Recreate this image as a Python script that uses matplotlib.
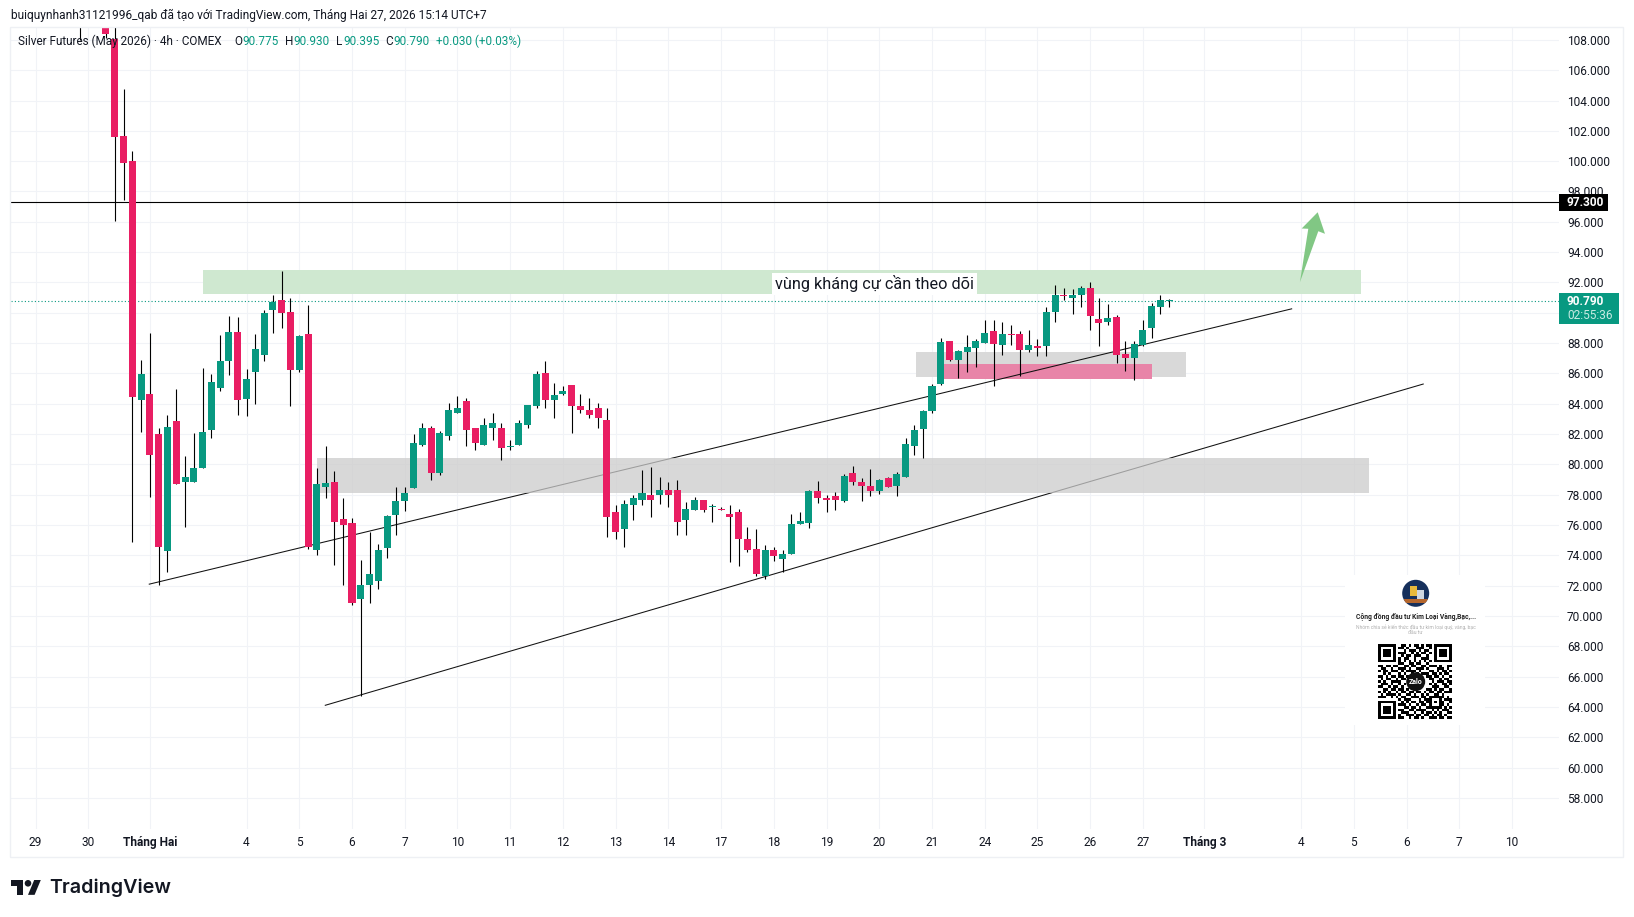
import numpy as np
import matplotlib
matplotlib.use('Agg')
import matplotlib.pyplot as plt
from matplotlib.patches import Rectangle, Circle, Polygon

plt.rcParams['font.family'] = ['Roboto', 'DejaVu Sans']

# 4h candles. bars 1 and 2 sit above the top of the chart
opens = [112.0, np.nan, np.nan, 109.5, 108.07, 101.63, 99.98, 84.27, 84.67, 82.03,
         74.31, 82.89, 78.86, 78.86, 79.79, 82.30, 85.07, 86.85, 88.76, 84.34,
         86.12, 87.24, 90.21, 90.81, 90.08, 86.25, 88.63, 74.38, 78.53, 78.86,
         76.42, 76.16, 71.15, 72.07, 72.33, 74.51, 76.69, 77.61, 78.47, 81.25,
         82.43, 79.40, 81.84, 83.42, 84.15, 82.37, 81.25, 82.43, 82.43, 81.14,
         81.25, 82.63, 83.82, 86.06, 84.22, 84.61, 85.21, 83.82, 83.56, 83.69,
         82.96, 76.83, 75.77, 77.35, 77.62, 78.01, 77.95, 78.28, 78.28, 76.30,
         76.96, 77.68, 77.20, 77.09, 76.76, 76.89, 75.11, 74.45, 72.67, 74.32,
         73.73, 74.06, 76.09, 76.16, 78.27, 77.81, 77.94, 77.61, 79.46, 78.86,
         78.60, 78.27, 79.13, 78.60, 79.19, 81.24, 82.36, 83.55, 85.33, 88.17,
         86.91, 87.44, 87.70, 88.03, 88.83, 87.90, 88.63, 88.63, 87.57, 87.84,
         87.84, 90.08, 91.14, 91.00, 91.14, 91.66, 89.62, 89.42, 89.75, 87.31,
         87.04, 87.90, 89.02, 90.41, 90.775]
highs = [113.0, np.nan, np.nan, 110.5, 109.5, 104.73, 100.70, 86.91, 88.69, 82.43,
         83.28, 85.00, 80.58, 82.10, 86.39, 85.99, 88.56, 89.82, 89.75, 86.32,
         88.63, 90.21, 91.14, 92.78, 91.00, 88.56, 90.54, 79.79, 81.24, 79.59,
         77.81, 76.49, 73.72, 75.56, 74.78, 76.69, 78.53, 78.53, 82.03, 82.76,
         82.50, 82.17, 84.08, 84.48, 84.35, 82.37, 83.09, 83.42, 82.70, 81.64,
         82.96, 83.95, 86.19, 86.79, 85.34, 85.14, 85.21, 84.61, 84.35, 84.08,
         83.69, 77.29, 77.68, 78.01, 79.66, 79.86, 79.20, 78.87, 78.94, 77.49,
         77.88, 77.68, 77.36, 77.16, 77.29, 77.09, 75.90, 75.71, 74.65, 74.58,
         74.32, 76.76, 76.89, 78.34, 78.93, 78.01, 78.20, 79.39, 79.92, 79.13,
         79.72, 79.06, 79.19, 79.52, 81.77, 82.62, 83.61, 85.33, 88.36, 88.17,
         87.57, 88.56, 88.30, 89.55, 89.55, 89.42, 89.22, 88.83, 88.89, 88.30,
         90.41, 91.86, 91.66, 91.60, 91.79, 92.06, 91.00, 90.61, 89.88, 88.17,
         88.17, 89.55, 90.67, 91.20, 90.93]
lows = [108.0, np.nan, np.nan, 108.14, 96.04, 97.41, 74.86, 82.12, 77.88, 72.03,
        72.93, 78.73, 75.85, 78.86, 79.79, 81.77, 84.87, 85.92, 83.28, 83.17,
        84.01, 86.85, 88.69, 89.02, 83.88, 86.12, 74.44, 74.05, 77.81, 73.39,
        72.07, 70.75, 64.75, 70.88, 71.80, 73.85, 75.37, 76.95, 78.47, 81.18,
        79.00, 79.33, 81.58, 83.42, 81.18, 80.92, 81.25, 81.64, 80.32, 80.92,
        81.25, 82.43, 83.69, 83.75, 83.09, 84.55, 82.04, 83.42, 83.09, 82.37,
        75.18, 75.05, 74.52, 76.30, 77.29, 76.56, 77.42, 77.22, 75.31, 75.31,
        76.96, 76.83, 76.23, 76.96, 73.53, 73.33, 74.19, 72.67, 72.47, 73.66,
        72.93, 74.06, 76.09, 75.83, 77.48, 76.89, 77.02, 77.55, 78.67, 77.61,
        77.94, 78.07, 78.53, 77.94, 79.19, 80.65, 80.45, 83.42, 85.26, 86.85,
        85.73, 86.12, 86.45, 88.03, 85.20, 87.24, 87.90, 85.86, 87.44, 87.18,
        87.18, 89.42, 90.87, 89.95, 90.41, 88.89, 87.84, 89.22, 86.72, 86.19,
        85.59, 87.84, 88.36, 89.95, 90.395]
closes = [110.0, np.nan, np.nan, 108.42, 101.61, 99.87, 84.43, 85.99, 80.65, 74.53,
          82.49, 78.73, 79.19, 79.79, 82.16, 85.46, 86.85, 88.76, 84.27, 85.66,
          87.64, 90.01, 90.74, 90.01, 86.25, 88.50, 74.53, 78.73, 78.80, 76.23,
          76.03, 70.88, 72.07, 72.79, 74.38, 76.62, 77.61, 78.14, 81.44, 82.37,
          79.40, 82.10, 83.62, 83.69, 82.24, 81.38, 82.63, 82.70, 81.05, 81.18,
          82.70, 83.89, 85.98, 84.22, 84.55, 84.81, 83.82, 83.62, 83.29, 83.03,
          76.50, 75.57, 77.42, 77.75, 78.08, 77.68, 78.34, 78.01, 76.23, 77.09,
          77.62, 77.02, 77.25, 76.96, 76.56, 75.05, 74.32, 72.74, 74.32, 73.99,
          74.12, 76.09, 76.29, 78.27, 77.81, 77.68, 77.68, 79.26, 78.86, 78.60,
          78.27, 78.99, 78.53, 79.39, 81.37, 82.30, 83.55, 85.20, 88.10, 86.91,
          87.51, 87.77, 88.17, 88.69, 87.97, 88.63, 88.56, 87.57, 87.90, 87.70,
          90.08, 91.20, 91.09, 91.20, 91.66, 89.82, 89.35, 89.68, 87.24, 87.04,
          87.97, 88.89, 90.47, 90.81, 90.79]

price_ticks = list(range(58, 110, 2))
hidden_price_ticks = [90]  # covered by the last price tag in the picture
day_bars = [-5, 1, 8, 19, 25, 31, 37, 43, 49, 55, 61, 67, 73, 79, 85, 91, 97, 103,
            109, 115, 121, 128, 139, 145, 151, 157, 163]
day_labels = ['29', '30', 'Tháng Hai', '4', '5', '6', '7', '10', '11', '12', '13', '14',
              '17', '18', '19', '20', '21', '24', '25', '26', '27', 'Tháng 3', '4', '5',
              '6', '7', '10']
month_labels = ['Tháng Hai', 'Tháng 3']

last_price = 90.79
level_price = 97.3

# drawings on the chart, (bar from, bar to, price low, price high)
resist_zone = (14.05, 145.8, 91.23, 92.79)
big_gray_zone = (27.0, 146.7, 78.10, 80.45)
small_gray_zone = (95.2, 125.9, 85.75, 87.38)
pink_zone = (98.4, 122.0, 85.62, 86.65)
trend_up = ([7.93, 137.93], [72.10, 90.26])
trend_low = ([27.96, 152.9], [64.11, 85.30])
arrow_bars = [138.87, 139.82, 139.07, 140.89, 141.72, 140.96]
arrow_prices = [92.02, 95.54, 95.56, 96.63, 95.21, 95.38]

# zalo code, hand typed from the picture
qr_rows = [
    '11111110011010110101101111111',
    '10000010110100011100101000001',
    '10111010001011101011001011101',
    '10111010111001010110101011101',
    '10111010010110111001001011101',
    '10000010101100100111001000001',
    '11111110101010101010101111111',
    '00000000110011011001000000000',
    '11011011001101100110111010011',
    '01100100111010011101000111010',
    '10110111010111101000110101101',
    '00101000101001010111011010110',
    '11010110110100000001101101001',
    '01011001011000000000110010110',
    '10100111100000000000010111011',
    '01110100101000000000101001101',
    '11001011010000000000011100110',
    '00110110110100000001101011001',
    '10101001011011011010110110111',
    '01011110100110100101001101000',
    '11100101011001110110111111010',
    '00000000101110001011100010111',
    '11111110010101101101101011001',
    '10000010111010010110100011010',
    '10111010001101101001111110101',
    '10111010110011011110010101110',
    '10111010011100100101101010011',
    '10000010100111011011010110100',
    '11111110110010110100111011011',
]

GREEN = '#089981'
RED = '#e91e63'
GRID = '#f1f3f7'
TEXT = '#131722'

W, H = 1634, 917
PLOT_L, PLOT_R, PLOT_T, PLOT_B = 10.5, 1559, 27, 829

fig = plt.figure(figsize=(W / 100, H / 100), dpi=100, facecolor='white')
ax = fig.add_axes([PLOT_L / W, 1 - PLOT_B / H, (PLOT_R - PLOT_L) / W, (PLOT_B - PLOT_T) / H])
ax.set_xlim(-7.86, 168.35)
ax.set_ylim(55.95, 108.85)
for s in ax.spines.values():
    s.set_visible(False)

ax.set_yticks(price_ticks)
ax.set_yticklabels(['' if p in hidden_price_ticks else f'{p:.3f}' for p in price_ticks],
                   fontsize=8.6, color=TEXT)
ax.yaxis.tick_right()
ax.set_xticks(day_bars)
ax.set_xticklabels(day_labels, fontsize=8.6, color=TEXT)
for lab in ax.get_xticklabels():
    if lab.get_text() in month_labels:
        lab.set_fontweight('bold')
ax.tick_params(axis='both', length=0)
ax.tick_params(axis='y', pad=5.8)
ax.tick_params(axis='x', pad=5)
ax.grid(True, color=GRID, lw=0.8)
ax.set_axisbelow(True)


def zone(box, color, z, alpha=1.0):
    ax.add_patch(Rectangle((box[0], box[2]), box[1] - box[0], box[3] - box[2],
                           facecolor=color, edgecolor='none', alpha=alpha, zorder=z))


ax.plot(*trend_low, color='#111111', lw=0.75, zorder=1.5)
ax.plot(*trend_up, color='#111111', lw=0.75, zorder=1.5)
zone(big_gray_zone, '#cccccc', 2, alpha=0.75)
zone(resist_zone, '#cfe8d0', 1.2)
zone(small_gray_zone, '#d9d9d9', 1.2)
zone(pink_zone, '#e884a8', 1.3)

ax.axhline(level_price, color='black', lw=0.8, zorder=2.5)
ax.axhline(last_price, color=GREEN, lw=0.8, ls=(0, (1, 2)), zorder=2.5)
ax.add_patch(Polygon(list(zip(arrow_bars, arrow_prices)), closed=True, facecolor='#81c784',
                     edgecolor='none', zorder=3))

bars = np.arange(len(opens))
o, h, l, c = map(np.array, (opens, highs, lows, closes))
colors = [GREEN if b >= a else RED for a, b in zip(o, c)]
ax.vlines(bars, l, h, color='black', lw=0.8, zorder=3)
body = np.abs(c - o)
body[body < 0.07] = 0.07
ax.bar(bars, body, bottom=np.minimum(o, c), width=0.8, color=colors, linewidth=0, zorder=4)

ax.text(90.46, 91.9, 'vùng kháng cự cần theo dõi', fontsize=11.7, color=TEXT, ha='center', va='center',
        zorder=5, bbox=dict(facecolor='white', edgecolor='none', pad=2.0))

# everything outside the plot is placed in picture pixels
ov = fig.add_axes([0, 0, 1, 1], zorder=5)
ov.set_xlim(0, W)
ov.set_ylim(H, 0)
ov.axis('off')
ov.patch.set_visible(False)

ov.add_patch(Rectangle((10.5, 27), 1612.5, 830, fill=False, edgecolor='#eef0f4', lw=1))

ov.text(10.7, 15, 'buiquynhanh31121996_qab đã tạo với TradingView.com, Tháng Hai 27, 2026 15:14 UTC+7',
        fontsize=8.6, color=TEXT, va='center')
legend_parts = [(17.9, 'Silver Futures (May 2026) · 4h · COMEX', TEXT), (234, 'O', TEXT),
                (242, '90.775', GREEN), (285, 'H', TEXT), (293.6, '90.930', GREEN),
                (336.4, 'L', TEXT), (342.9, '90.395', GREEN), (385.7, 'C', TEXT),
                (392.9, '90.790', GREEN), (435.7, '+0.030 (+0.03%)', GREEN)]
for x, s, col in legend_parts:
    ov.text(x, 41.7, s, fontsize=8.5, color=col, va='center')

# price labels
ov.add_patch(Rectangle((1559, 194.3), 48.7, 16.4, facecolor='#000000', edgecolor='none'))
ov.text(1567, 202.5, f'{level_price:.3f}', color='white', fontsize=8.6, fontweight='bold', va='center')
ov.add_patch(Rectangle((1559, 293), 60, 30.7, facecolor=GREEN, edgecolor='none'))
ov.text(1567, 301.7, f'{last_price:.3f}', color='white', fontsize=8.6, fontweight='bold', va='center')
ov.text(1567, 315.7, '02:55:36', color='#c8ebe3', fontsize=8.6, va='center')

# zalo card
ov.add_patch(Rectangle((1345, 575), 140, 150, facecolor='white', edgecolor='none'))
avatar = Circle((1415.7, 593.3), 13.5, facecolor='#16305c', edgecolor='none')
ov.add_patch(avatar)
for (ax_, ay_, aw_, ah_, col) in [(1410, 586, 7, 10, '#e8b93a'), (1417, 590, 7, 9, '#cfd6df'),
                                  (1404, 599, 24, 4, '#b5662c')]:
    r = Rectangle((ax_, ay_), aw_, ah_, facecolor=col, edgecolor='none')
    ov.add_patch(r)
    r.set_clip_path(avatar)
ov.text(1415.7, 617.3, 'Cộng đồng đầu tư Kim Loại Vàng,Bạc,...', fontsize=4.9, fontweight='bold',
        color='#222222', ha='center', va='center')
ov.text(1415.7, 627, 'Nhóm chia sẻ kiến thức đầu tư kim loại quý, vàng, bạc', fontsize=3.6, color='#b0b0b0',
        ha='center', va='center')
ov.text(1415.7, 632.7, 'đầu tư', fontsize=3.6, color='#b0b0b0', ha='center', va='center')

qr = fig.add_axes([1378.3 / W, 1 - 719 / H, 74 / W, 74.7 / H], zorder=6)
qr.imshow([[1 - int(ch) for ch in row] for row in qr_rows], cmap='gray', vmin=0, vmax=1,
          aspect='auto', interpolation='nearest')
qr.axis('off')
ov2 = fig.add_axes([0, 0, 1, 1], zorder=7)
ov2.set_xlim(0, W)
ov2.set_ylim(H, 0)
ov2.axis('off')
ov2.patch.set_visible(False)
ov2.add_patch(Circle((1415.7, 681.7), 9.5, facecolor='#111111', edgecolor='none'))
ov2.text(1415.7, 681.7, 'Zalo', color='white', fontsize=5, fontweight='bold', ha='center', va='center')

# tradingview mark
s = 0.825
mark = lambda pts: [(11.5 + a * s, 880 + (b - 7) * s) for a, b in pts]
ov.add_patch(Polygon(mark([(0, 7), (14, 7), (14, 25), (7, 25), (7, 14), (0, 14)]), facecolor='#131722', edgecolor='none'))
ov.add_patch(Polygon(mark([(28, 25), (20, 25), (27.5, 7), (35.5, 7)]), facecolor='#131722', edgecolor='none'))
ov.add_patch(Circle(mark([(20, 11)])[0], 4 * s, facecolor='#131722', edgecolor='none'))
ov.text(49.5, 888, 'TradingView', fontsize=14.2, fontweight='semibold', family=['Inter', 'DejaVu Sans'],
        color='#131722', va='center')

fig.savefig('out.png', dpi=100)
